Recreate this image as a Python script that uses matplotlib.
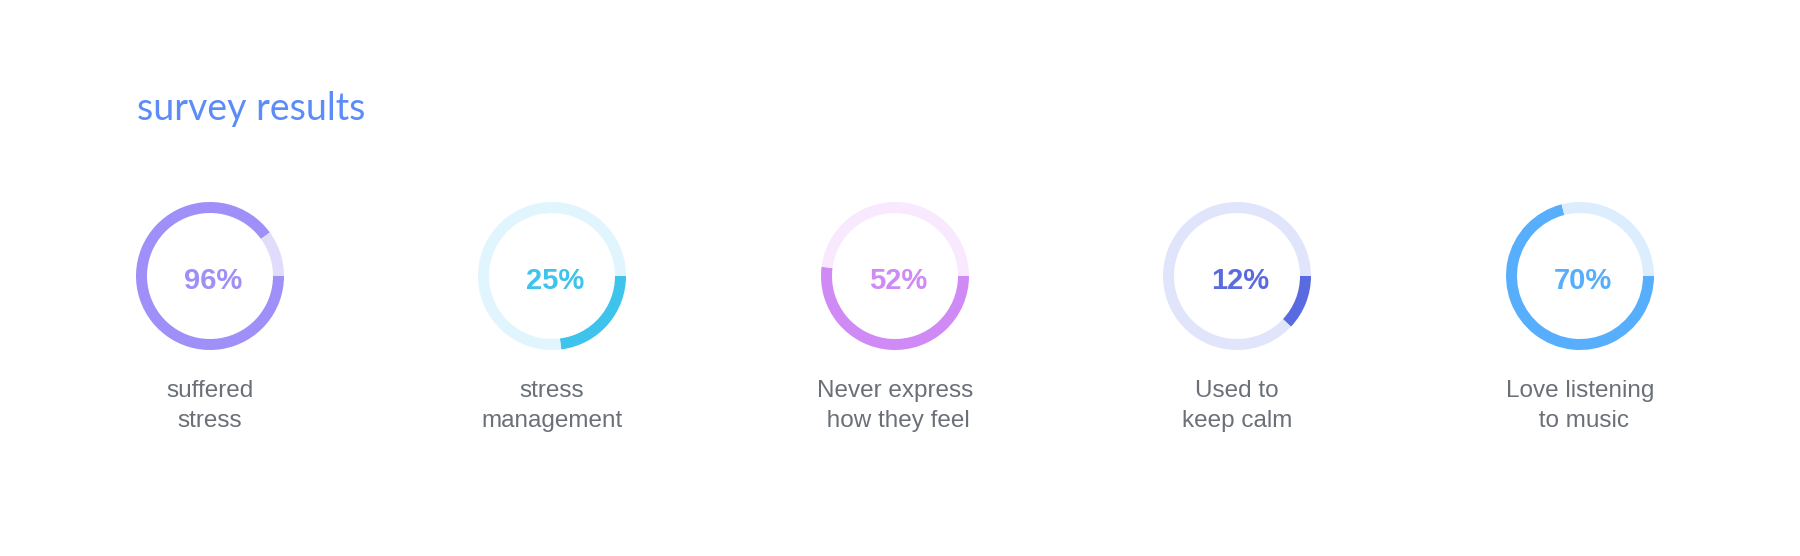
import matplotlib.pyplot as plt

# survey values shown in the centre of each ring
percents = [96, 25, 52, 12, 70]
# share of the ring actually filled in the picture
arc_share = [0.90, 0.23, 0.52, 0.12, 0.71]
labels = ['suffered\nstress', 'stress\nmanagement', 'Never express\n how they feel',
          'Used to\nkeep calm', 'Love listening\n to music']

dark = ['#9f8ff8', '#3ec3ec', '#cf8af5', '#5a6ae0', '#56aefc']
light = ['#e2dcfc', '#e0f5fd', '#f8e9fe', '#e1e5fc', '#dceefe']

W, H = 1800, 556
fig = plt.figure(figsize=(W / 100, H / 100), dpi=100)
ax = fig.add_axes([0, 0, 1, 1])

centers_x = [210, 552, 895, 1237, 1580]
cy = H - 276
radius = 74
ring = 11

for i in range(len(percents)):
    ax.pie([arc_share[i], 1 - arc_share[i]], colors=[dark[i], light[i]],
           startangle=0, counterclock=False, radius=radius,
           center=(centers_x[i], cy),
           wedgeprops=dict(width=ring, linewidth=0))
    ax.text(centers_x[i] + 3, cy - 5, '%d%%' % percents[i], color=dark[i],
            fontsize=21, fontweight='bold', family='Liberation Sans',
            ha='center', va='center')
    ax.text(centers_x[i], H - 406, labels[i], color='#6b7078', fontsize=17.5,
            family='Liberation Sans', ha='center', va='center',
            linespacing=1.45)

ax.text(137, H - 120, 'survey results', color='#5b8cf7', fontsize=27,
        family='Lato', ha='left', va='baseline')

ax.set_xlim(0, W)
ax.set_ylim(0, H)
ax.set_aspect('auto')
ax.axis('off')

fig.savefig('out.png', dpi=100, facecolor='white')
